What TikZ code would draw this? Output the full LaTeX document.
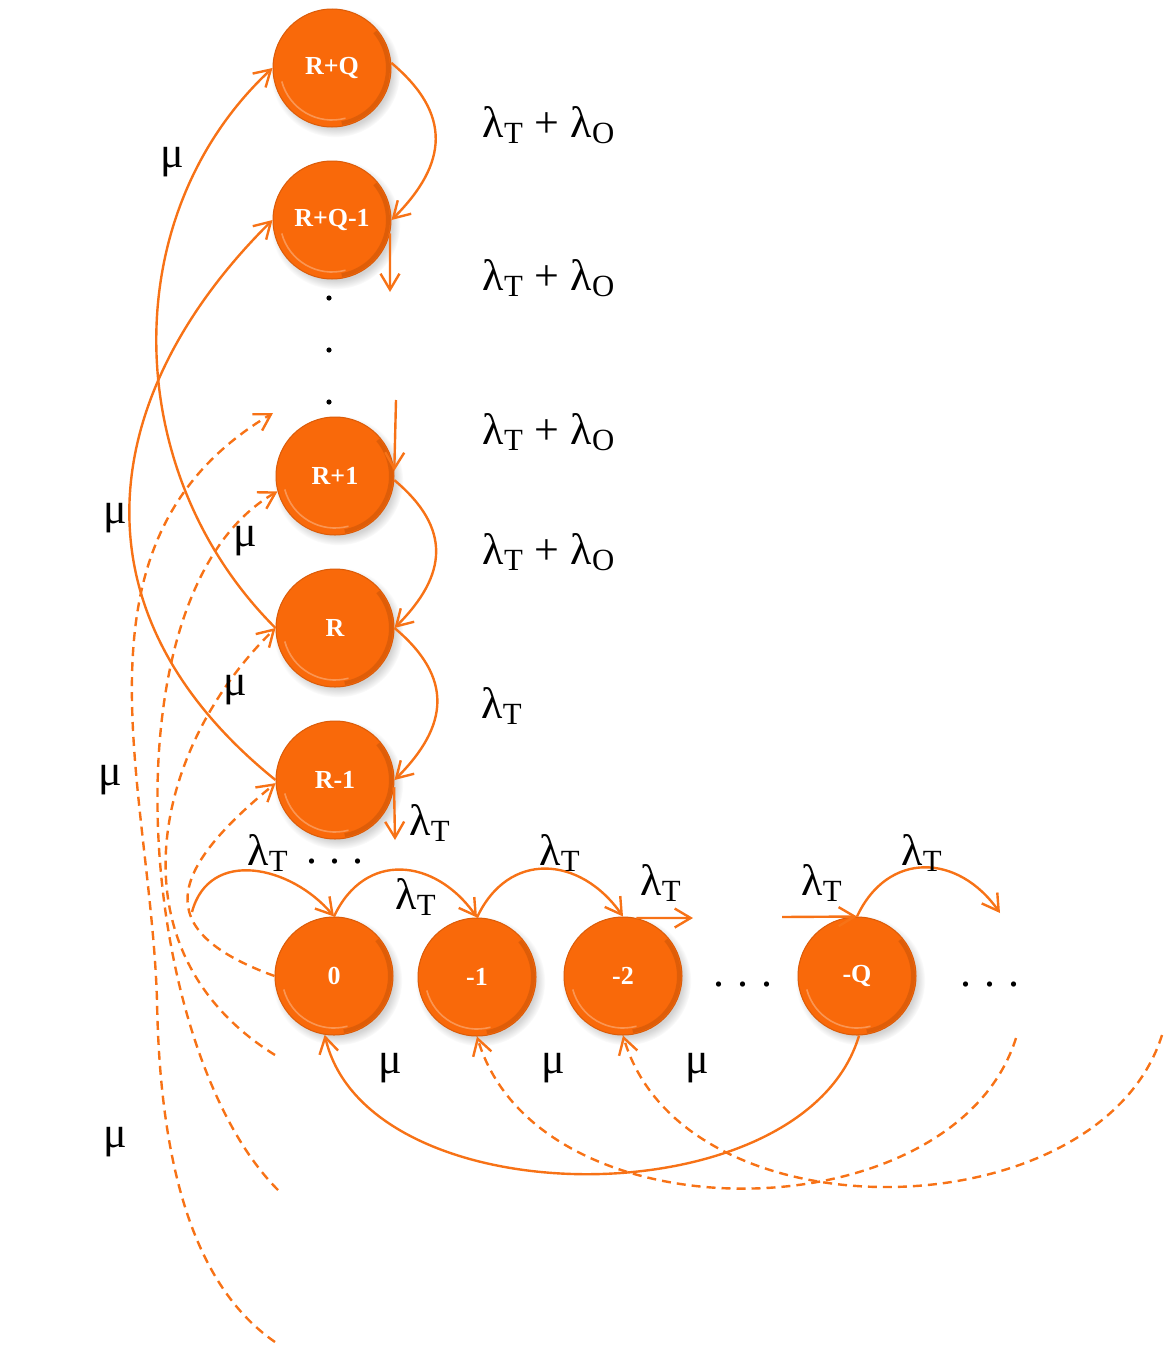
\documentclass[tikz,border=0pt]{standalone}
\usepackage{fontspec}
\setmainfont{Liberation Serif}
\usepackage{tikz}
\usetikzlibrary{arrows.meta,shadows}
\definecolor{StateOrange}{RGB}{249,105,10}
\definecolor{ArcOrange}{RGB}{247,114,22}
\newcommand{\lamT}{λ\textsubscript{T}}
\newcommand{\lamTO}{λ\textsubscript{T} + λ\textsubscript{O}}
\newcommand{\rowdots}[1]{.\hspace{#1}.\hspace{#1}.}

\begin{document}
\begin{tikzpicture}[x=0.5pt,y=-0.5pt,
    state/.style={circle,fill=StateOrange,draw=StateOrange!88!black,line width=0.5pt,
        minimum size=59pt,inner sep=0pt,text=white,font=\fontsize{13}{15}\selectfont\bfseries,
        circular drop shadow={shadow xshift=1.5pt,shadow yshift=-2pt,opacity=0.35},
        path picture={
            \draw[StateOrange!70!black,opacity=0.35,line width=2pt] (path picture bounding box.center) ++(-80:28pt) arc[start angle=-80,end angle=40,radius=28pt];
            \draw[white,opacity=0.3,line width=0.8pt] (path picture bounding box.center) ++(195:26pt) arc[start angle=195,end angle=285,radius=26pt];
        }},
    flow/.style={ArcOrange,line width=1.2pt,-{Straight Barb[length=8pt,width=9.5pt]}},
    reorder/.style={flow,dash pattern=on 4.5pt off 3pt},
    rlabel/.style={font=\fontsize{22}{26}\selectfont,inner sep=0pt}]
    \useasboundingbox (0,0) rectangle (1163,1349);

    \node[state] (RQ) at (332,68) {R+Q};
    \node[state] (RQa) at (332,220) {R+Q-1};
    \node[state] (Rp) at (335,476) {R+1};
    \node[state] (R) at (335,628) {R};
    \node[state] (Rm) at (335,780) {R-1};
    \node[state] (s0) at (334,976) {0};
    \node[state] (s1) at (477,977) {-1};
    \node[state] (s2) at (623,976) {-2};
    \node[state] (sQ) at (857,976) {-Q};

    \foreach \y in {298,350,402}
        \fill (329,\y) circle[radius=1.3pt];

    \coordinate (aQa) at (390,292);
    \coordinate (aRp) at (396,400);
    \coordinate (aRm) at (395,840);
    \coordinate (top) at (273,413);
    \coordinate (d1) at (275,1055);
    \coordinate (d2) at (278,1190);
    \coordinate (d3) at (275,1342);
    \coordinate (l0) at (192,912);
    \coordinate (r2) at (693,918);
    \coordinate (lQ) at (782,917);
    \coordinate (rQ) at (1000,913);
    \coordinate (e1) at (1016,1038);
    \coordinate (e2) at (1162,1035);

    \draw[flow] (RQ.5) to[out=-40,in=45,looseness=1.3] (RQa.east);
    \draw[flow] (RQa.-13) -- (aQa);
    \draw[flow] (aRp) -- (Rp.5);
    \draw[flow] (Rp.-4) to[out=-40,in=45,looseness=1.3] (R.east);
    \draw[flow] (R.east) to[out=-40,in=45,looseness=1.3] (Rm.east);
    \draw[flow] (Rm.-7) -- (aRm);

    \draw[flow] (R.west) .. controls (120,473) and (115,215) .. (RQ.west);
    \draw[flow] (Rm.west) .. controls (60,606) and (104,387) .. (RQa.west);

    \draw[reorder] (s0.west) .. controls (148,930) and (170,870) .. (Rm.183);
    \draw[reorder] (d1) .. controls (111,953) and (149,752) .. (R.west);
    \draw[reorder] (d2) .. controls (137,1049) and (100,593) .. (Rp.195);
    \draw[reorder] (d3) .. controls (200,1290) and (160,1180) .. (157,1000) .. controls (150,780) and (60,540) .. (top);

    \draw[flow] (l0) to[out=75,in=130,looseness=1.2] (s0.north);
    \draw[flow] (s0.north) to[out=65,in=125,looseness=1.3] (s1.north);
    \draw[flow] (s1.north) to[out=65,in=125,looseness=1.3] (s2.north);
    \draw[flow] (s2.77) -- (r2);
    \draw[flow] (lQ) -- (sQ.north);
    \draw[flow] (sQ.north) to[out=65,in=125,looseness=1.3] (rQ);

    \draw[flow] (sQ.-88) .. controls (804,1221) and (367,1219) .. (s0.-99);
    \draw[reorder] (e1) .. controls (954,1235) and (539,1242) .. (s1.south);
    \draw[reorder] (e2) .. controls (1100,1232) and (684,1242) .. (s2.south);

    \foreach \y [count=\i] in {125,278,432,552}
        \node[rlabel] (sum\i) at (549,\y) {\lamTO};
    \node[rlabel] (lt0) at (502,706) {\lamT};
    \foreach \p [count=\i] in {(430,823),(268,853),(416,897),(560,853),(661,883),(822,883),(922,853)}
        \node[rlabel] (lt\i) at \p {\lamT};
    \foreach \p [count=\i] in {(172,162),(115,518),(245,541),(235,690),(110,780),(115,1142),(390,1068),(553,1068),(697,1068)}
        \node[rlabel] (mu\i) at \p {μ};

    \node[rlabel] (dotsA) at (335,862) {\rowdots{5.8pt}};
    \node[rlabel] (dotsB) at (743,985) {\rowdots{6.6pt}};
    \node[rlabel] (dotsC) at (990,985) {\rowdots{6.6pt}};
\end{tikzpicture}
\end{document}
